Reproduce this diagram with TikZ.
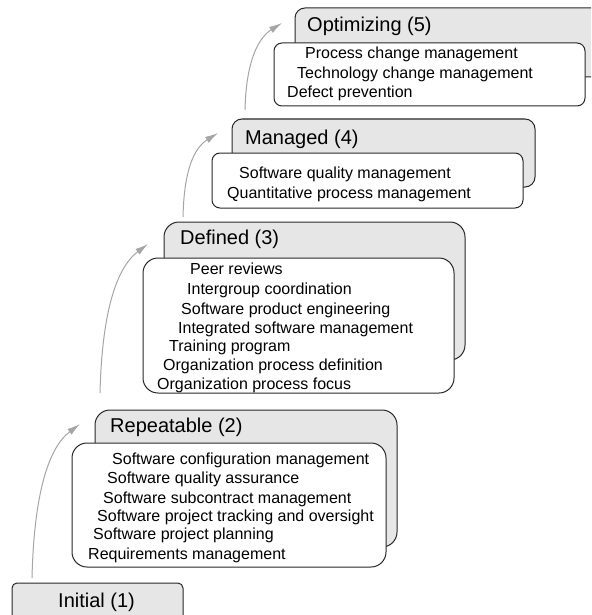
\documentclass[tikz,border=0pt]{standalone}
\usepackage{fontspec}
\setmainfont{Liberation Sans}
\usetikzlibrary{arrows.meta,calc}
\definecolor{backgray}{RGB}{230,230,230}
\definecolor{edgecol}{RGB}{40,40,40}
\definecolor{arrowgray}{RGB}{165,165,165}
\begin{document}
\begin{tikzpicture}[x=1pt,y=-1pt,
  backbox/.style={draw=edgecol, line width=1pt, fill=backgray, anchor=north west, inner sep=0pt, outer sep=0pt},
  frontbox/.style={draw=edgecol, line width=1pt, fill=white, anchor=north west, inner sep=0pt, outer sep=0pt},
  leveltitle/.style={anchor=base west, inner sep=0pt, font=\fontsize{20}{24}\selectfont},
  kpa/.style={anchor=base west, inner sep=0pt, font=\fontsize{16}{19}\selectfont},
  lift/.style={draw=arrowgray, line width=1pt, -{Latex[length=13pt,width=7pt]}}]
\useasboundingbox (0,0) rectangle (591,615);
\clip (0,0) rectangle (591,615);

% Level 5
\node[backbox, rounded corners=10pt, minimum width=310pt, minimum height=69pt] (b5) at (295,8) {};
\node[leveltitle] (t5) at (307,32) {Optimizing (5)};
\node[frontbox, rounded corners=8pt, minimum width=311pt, minimum height=63pt] (f5) at (274,43) {};
\node[kpa] (k51) at (305,59) {Process change management};
\node[kpa] (k52) at (297,79) {Technology change management};
\node[kpa] (k53) at (287,98) {Defect prevention};

% Level 4
\node[backbox, rounded corners=10pt, minimum width=303pt, minimum height=68pt] (b4) at (232,119) {};
\node[leveltitle] (t4) at (245,144) {Managed (4)};
\node[frontbox, rounded corners=8pt, minimum width=311pt, minimum height=55pt] (f4) at (212,153) {};
\node[kpa] (k41) at (239,178) {Software quality management};
\node[kpa] (k42) at (227,198) {Quantitative process management};

% Level 3
\node[backbox, rounded corners=15pt, minimum width=301pt, minimum height=138pt] (b3) at (164,222) {};
\node[leveltitle] (t3) at (180,244) {Defined (3)};
\node[frontbox, rounded corners=15pt, minimum width=311pt, minimum height=135pt] (f3) at (143,258) {};
\node[kpa] (k31) at (190,274) {Peer reviews};
\node[kpa] (k32) at (187,294) {Intergroup coordination};
\node[kpa] (k33) at (181,314) {Software product engineering};
\node[kpa] (k34) at (178,333) {Integrated software management};
\node[kpa] (k35) at (169,351) {Training program};
\node[kpa] (k36) at (163,370) {Organization process definition};
\node[kpa] (k37) at (157,389) {Organization process focus};

% Level 2
\node[backbox, rounded corners=15pt, minimum width=302pt, minimum height=137pt] (b2) at (95,410) {};
\node[leveltitle] (t2) at (110,432) {Repeatable (2)};
\node[frontbox, rounded corners=15pt, minimum width=314pt, minimum height=124pt] (f2) at (72,443) {};
\node[kpa] (k21) at (112,464) {Software configuration management};
\node[kpa] (k22) at (107,483) {Software quality assurance};
\node[kpa] (k23) at (103,503) {Software subcontract management};
\node[kpa] (k24) at (97,521) {Software project tracking and oversight};
\node[kpa] (k25) at (93,539) {Software project planning};
\node[kpa] (k26) at (88,559) {Requirements management};

% Level 1
\node[backbox, rounded corners=5pt, minimum width=171pt, minimum height=45pt] (b1) at (12,583) {};
\node[leveltitle] (t1) at (58,607) {Initial (1)};

% Arrows
\coordinate (s12) at (32,578);  \coordinate (e12) at (80,424);
\coordinate (s23) at (100,393); \coordinate (e23) at (148,244);
\coordinate (s34) at (183,217); \coordinate (e34) at (218,133);
\coordinate (s45) at (245,110); \coordinate (e45) at (282,23);
\draw[lift] (s12) .. controls ($(s12)+(2,-83)$) and ($(e12)+(-32,24)$) .. (e12);
\draw[lift] (s23) .. controls ($(s23)+(2,-80)$) and ($(e23)+(-32,24)$) .. (e23);
\draw[lift] (s34) .. controls ($(s34)+(1,-47)$) and ($(e34)+(-24,15)$) .. (e34);
\draw[lift] (s45) .. controls ($(s45)+(1,-48)$) and ($(e45)+(-24,15)$) .. (e45);
\end{tikzpicture}
\end{document}
